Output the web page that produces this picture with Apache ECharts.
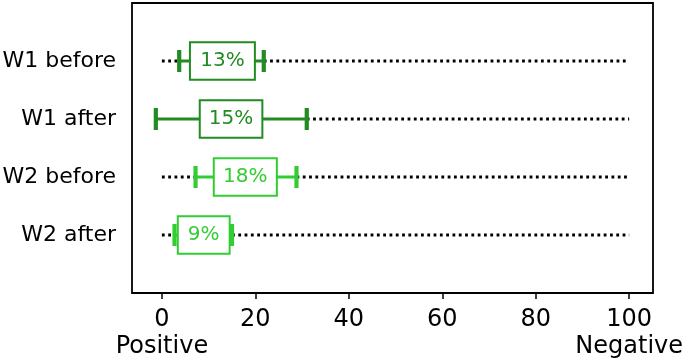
<!DOCTYPE html>
<html>
<head>
<meta charset="utf-8">
<title>W1 / W2 before-after</title>
<script src="https://cdn.jsdelivr.net/npm/echarts@6/dist/echarts.min.js"></script>
<style>
  html, body { margin: 0; padding: 0; background: #fff; }
  #main { width: 685px; height: 359px; }
</style>
</head>
<body>
<div id="main"></div>
<script>
// rows, top to bottom
var categories = ['W1 before', 'W1 after', 'W2 before', 'W2 after'];
var means = [13, 15, 18, 9];
var boxLow = [6.0, 8.1, 11.1, 3.4];
var boxHigh = [19.9, 21.5, 24.6, 14.5];
var whiskerLow = [3.7, -1.3, 7.2, 2.7];
var whiskerHigh = [21.8, 31.0, 28.8, 15.0];
var rowColors = ['#228B22', '#228B22', '#32CD32', '#32CD32'];

var xTicks = [0, 20, 40, 60, 80, 100];
var xEnds = { 0: 'Positive', 100: 'Negative' };
var lineStart = 0, lineEnd = 100;

var FONT = 'DejaVu Sans';

var rows = categories.map(function (c, i) {
  return [i + 1, whiskerLow[i], boxLow[i], boxHigh[i], whiskerHigh[i], means[i]];
});
// dotted scale line, only where the whisker does not cover it
var dotted = [];
categories.forEach(function (c, i) {
  if (whiskerLow[i] > lineStart) dotted.push([i + 1, lineStart, whiskerLow[i]]);
  dotted.push([i + 1, whiskerHigh[i], lineEnd]);
});

var chart = echarts.init(document.getElementById('main'), null, { renderer: 'canvas' });

chart.setOption({
  animation: false,
  backgroundColor: '#fff',
  grid: {
    left: 132, right: 32, top: 3, bottom: 66,
    outerBoundsMode: 'none', containLabel: false,
    show: true, borderColor: '#000', borderWidth: 1.8, backgroundColor: '#fff'
  },
  xAxis: {
    type: 'value', min: -6.4, max: 105.1, position: 'bottom',
    axisLine: { show: false, onZero: false },
    splitLine: { show: false },
    axisTick: { show: true, customValues: xTicks, length: 6, lineStyle: { color: '#000', width: 1.5 } },
    axisLabel: {
      customValues: xTicks, margin: 13, color: '#000',
      fontFamily: FONT, fontSize: 24, lineHeight: 27,
      formatter: function (v) {
        return xEnds[v] ? v + '\n' + xEnds[v] : String(v);
      }
    }
  },
  yAxis: {
    type: 'value', min: 0, max: 5, inverse: true,
    axisLine: { show: false, onZero: false },
    splitLine: { show: false },
    axisTick: { show: false },
    axisLabel: {
      customValues: [1, 2, 3, 4], margin: 16, color: '#000',
      fontFamily: FONT, fontSize: 22,
      formatter: function (v) { return categories[v - 1] || ''; }
    }
  },
  series: [
    {
      type: 'custom',
      data: dotted,
      renderItem: function (params, api) {
        var a = api.coord([api.value(1), api.value(0)]);
        var b = api.coord([api.value(2), api.value(0)]);
        return {
          type: 'line',
          shape: { x1: a[0], y1: a[1], x2: b[0], y2: b[1] },
          style: { stroke: '#000', lineWidth: 2.8, lineDash: [2.8, 3.5], lineCap: 'butt' }
        };
      },
      z: 2
    },
    {
      type: 'custom',
      data: rows,
      renderItem: function (params, api) {
        var y = api.value(0);
        var col = rowColors[params.dataIndex];
        var wl = api.coord([api.value(1), y]);
        var bl = api.coord([api.value(2), y]);
        var bh = api.coord([api.value(3), y]);
        var wh = api.coord([api.value(4), y]);
        var half = api.size([0, 1])[1] * 0.325;
        var cap = 11;
        var cy = wl[1];
        return {
          type: 'group',
          children: [
            { type: 'line', shape: { x1: wl[0], y1: cy, x2: bl[0], y2: cy }, style: { stroke: col, lineWidth: 3 } },
            { type: 'line', shape: { x1: bh[0], y1: cy, x2: wh[0], y2: cy }, style: { stroke: col, lineWidth: 3 } },
            { type: 'line', shape: { x1: wl[0], y1: cy - cap, x2: wl[0], y2: cy + cap }, style: { stroke: col, lineWidth: 4.2 } },
            { type: 'line', shape: { x1: wh[0], y1: cy - cap, x2: wh[0], y2: cy + cap }, style: { stroke: col, lineWidth: 4.2 } },
            {
              type: 'rect',
              shape: { x: bl[0], y: cy - half, width: bh[0] - bl[0], height: half * 2 },
              style: { fill: '#fff', stroke: col, lineWidth: 2 }
            },
            {
              type: 'text',
              x: (bl[0] + bh[0]) / 2, y: cy,
              style: {
                text: api.value(5) + '%', fill: col,
                font: '20px "' + FONT + '"', align: 'center', verticalAlign: 'middle'
              }
            }
          ]
        };
      },
      z: 3
    }
  ]
});
</script>
</body>
</html>
